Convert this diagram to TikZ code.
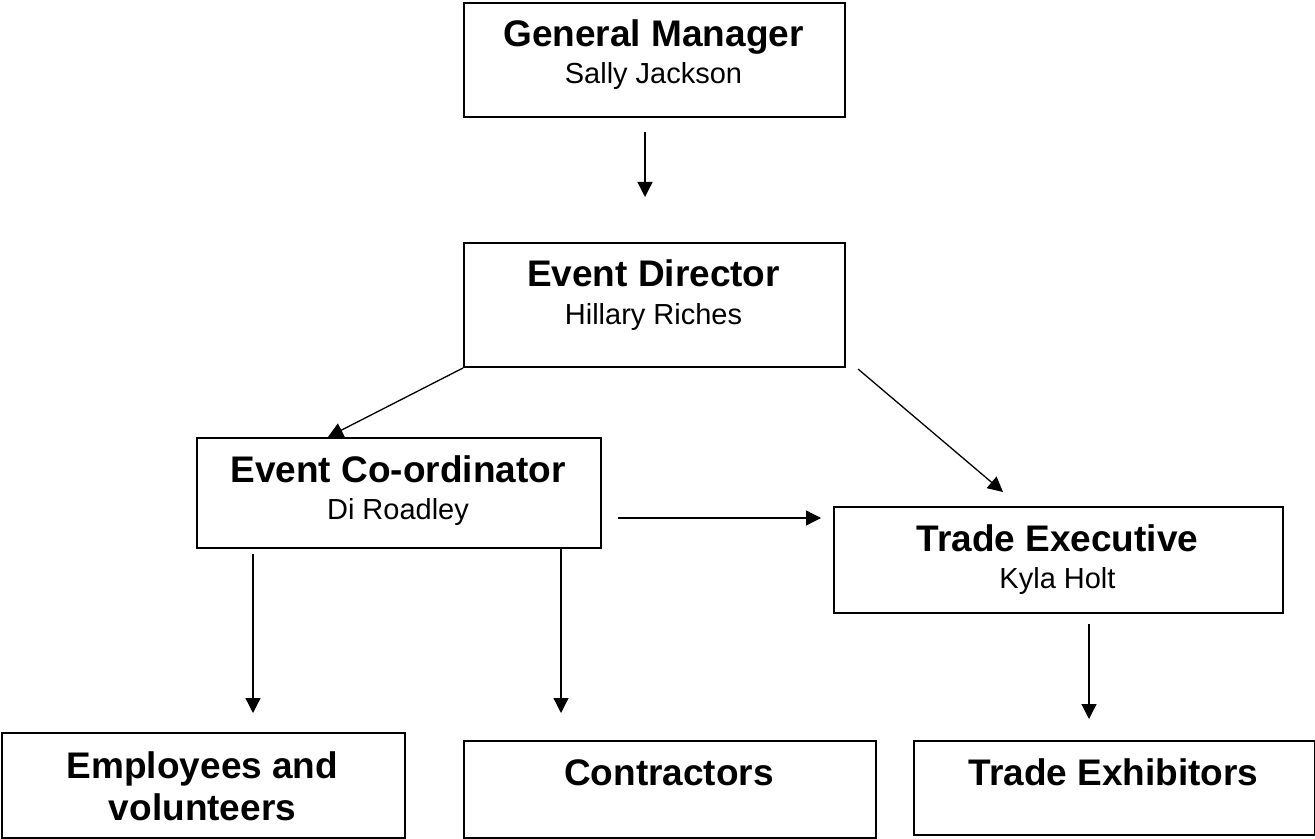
\documentclass[tikz,border=0pt]{standalone}
\usepackage{fontspec}
\setmainfont{Liberation Sans}
\usetikzlibrary{arrows.meta,calc}
\begin{document}
\begin{tikzpicture}[x=0.5pt,y=-0.5pt,
  box/.style={draw=black,line width=1pt,fill=white,rectangle,inner sep=0pt,anchor=north west},
  ttl/.style={font=\bfseries\fontsize{18.5pt}{21pt}\selectfont,anchor=base,inner sep=0pt,align=center},
  sub/.style={font=\fontsize{14.5pt}{17pt}\selectfont,anchor=base,inner sep=0pt},
  arr/.style={draw=black,line width=0.65pt,-{Triangle[length=7.5pt,width=7.5pt]}}]
\useasboundingbox[fill=white] (0,0) rectangle (1315,839);
% boxes
\node[box,minimum width=190.5pt,minimum height=57pt] (gm) at (463,2) {};
\node[box,minimum width=190.5pt,minimum height=62pt] (ed) at (463,242) {};
\node[box,minimum width=202pt,minimum height=55pt] (ec) at (196,437) {};
\node[box,minimum width=224.5pt,minimum height=53pt] (te) at (833,506) {};
\node[box,minimum width=201.5pt,minimum height=52.5pt] (ev) at (1,732) {};
\node[box,minimum width=206pt,minimum height=48.5pt] (co) at (463,740) {};
\node[box,minimum width=200.5pt,minimum height=47pt] (tx) at (913,740) {};
% texts
\node[ttl] (gmT) at (653.5,47) {General Manager};
\node[sub] (gmS) at (653.5,84) {Sally Jackson};
\node[ttl] (edT) at (653.5,287) {Event Director};
\node[sub] (edS) at (653.5,324) {Hillary Riches};
\node[ttl] (ecT) at (398,482) {Event Co-ordinator};
\node[sub] (ecS) at (398,519) {Di Roadley};
\node[ttl] (teT) at (1057.5,551) {Trade Executive};
\node[sub] (teS) at (1057.5,588) {Kyla Holt};
\node[ttl,anchor=north] (evT) at (202.5,751) {Employees and\\volunteers};
\node[ttl] (coT) at (669,785) {Contractors};
\node[ttl] (txT) at (1113.5,785) {Trade Exhibitors};
% connectors
\draw[arr] ($(gm.south)+(-9.5,14)$) -- ($(ed.north)+(-9.5,-45)$);
\draw[arr] (ed.south west) -- ($(ec.north west)+(132,0)$);
\draw[arr] ($(ed.south east)+(12,1)$) -- ($(te.north west)+(170,-14)$);
\draw[arr] ($(ec.north east)+(16,81)$) -- ($(te.north west)+(-12,12)$);
\draw[arr] ($(ec.south west)+(57,5)$) -- ($(ev.north west)+(252,-19)$);
\draw[arr] ($(ec.south west)+(365,0)$) -- ($(co.north west)+(98,-27)$);
\draw[arr] ($(te.south west)+(256,10)$) -- ($(tx.north west)+(176,-21)$);
\end{tikzpicture}
\end{document}
